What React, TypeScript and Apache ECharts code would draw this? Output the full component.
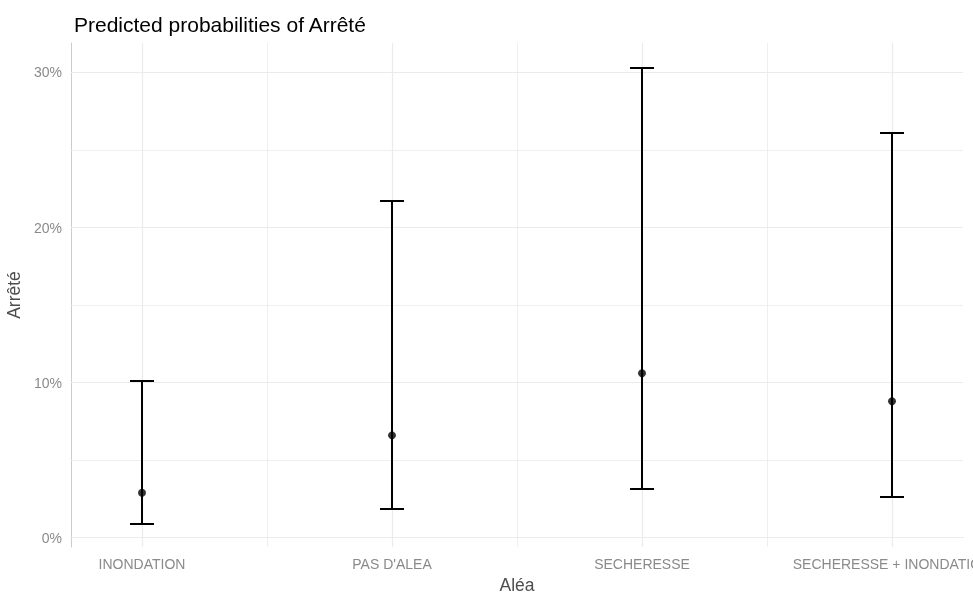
import React, { useEffect, useRef } from "react";
import * as echarts from "echarts";

const categories = ["INONDATION", "PAS D'ALEA", "SECHERESSE", "SECHERESSE + INONDATION"];
const predicted = [0.029, 0.066, 0.106, 0.088];
const lower = [0.0086, 0.0186, 0.0315, 0.026];
const upper = [0.101, 0.217, 0.303, 0.261];
const yTicks = [0, 0.1, 0.2, 0.3];
const yMinor = [0.05, 0.15, 0.25];
const xMinor = [1.5, 2.5, 3.5];

export default function App() {
  const ref = useRef<HTMLDivElement>(null);
  useEffect(() => {
    document.body.style.margin = "0";
    const chart = echarts.init(ref.current!, null, { renderer: "svg" });
    const font = "'Liberation Sans', Arial, sans-serif";
    const gridColor = "#ebebeb";
    const xPos = categories.map((_, i) => i + 1);
    chart.setOption({
      animation: false,
      textStyle: { fontFamily: font },
      title: {
        text: "Predicted probabilities of Arrêté",
        left: 69,
        top: 9,
        textStyle: { fontSize: 21, fontWeight: "normal", color: "#000", fontFamily: font },
      },
      grid: { left: 71, top: 43, right: 10, bottom: 46, outerBoundsMode: "none", containLabel: false },
      xAxis: {
        type: "value",
        min: 0.716,
        max: 4.284,
        name: "Aléa",
        nameLocation: "middle",
        nameGap: 26,
        nameTextStyle: { fontSize: 17.5, lineHeight: 18, color: "#4d4d4d", fontFamily: font },
        axisLine: { show: true, lineStyle: { color: "#cccccc", width: 1 } },
        axisTick: { show: false },
        splitLine: { show: false },
        axisLabel: {
          customValues: xPos,
          formatter: (v: number) => categories[Math.round(v) - 1] ?? "",
          color: "#8a8a8a",
          fontSize: 14,
          margin: 10,
          fontFamily: font,
        },
      },
      yAxis: {
        type: "value",
        min: -0.006,
        max: 0.319,
        name: "Arrêté",
        nameLocation: "middle",
        nameGap: 44,
        nameTextStyle: { fontSize: 17.5, color: "#4d4d4d", fontFamily: font },
        axisLine: { show: true, lineStyle: { color: "#cccccc", width: 1 } },
        axisTick: { show: false },
        splitLine: { show: false },
        axisLabel: {
          customValues: yTicks,
          formatter: (v: number) => Math.round(v * 100) + "%",
          color: "#8a8a8a",
          fontSize: 14,
          margin: 9,
          fontFamily: font,
        },
      },
      series: [
        {
          type: "line",
          data: [],
          silent: true,
          z: 1,
          markLine: {
            silent: true,
            symbol: "none",
            z: 1,
            label: { show: false },
            animation: false,
            data: [
              ...yTicks.map((v) => ({ yAxis: v, lineStyle: { color: gridColor, width: 1.2, type: "solid" } })),
              ...yMinor.map((v) => ({ yAxis: v, lineStyle: { color: gridColor, width: 0.8, type: "solid" } })),
              ...xPos.map((v) => ({ xAxis: v, lineStyle: { color: gridColor, width: 1.2, type: "solid" } })),
              ...xMinor.map((v) => ({ xAxis: v, lineStyle: { color: gridColor, width: 0.8, type: "solid" } })),
            ],
          },
        },
        {
          type: "custom",
          data: xPos.map((x, i) => [x, lower[i], upper[i]]),
          renderItem: (params: any, api: any) => {
            const x = api.value(0);
            const lo = api.coord([x, api.value(1)]);
            const hi = api.coord([x, api.value(2)]);
            const cx = Math.round(lo[0]);
            const ly = Math.round(lo[1]);
            const hy = Math.round(hi[1]);
            const hw = 12;
            const style = { fill: "#000", stroke: null };
            return {
              type: "group",
              children: [
                { type: "rect", shape: { x: cx - 1, y: hy - 1, width: 2, height: ly - hy + 2 }, style },
                { type: "rect", shape: { x: cx - hw, y: ly - 1, width: hw * 2, height: 2 }, style },
                { type: "rect", shape: { x: cx - hw, y: hy - 1, width: hw * 2, height: 2 }, style },
              ],
            };
          },
          z: 10,
        },
        {
          type: "scatter",
          data: xPos.map((x, i) => [x, predicted[i]]),
          symbol: "circle",
          symbolSize: 8,
          itemStyle: { color: "#000" },
          z: 11,
        },
      ],
    });
    return () => chart.dispose();
  }, []);
  return <div ref={ref} style={{ position: "fixed", left: 0, top: 0, width: 973, height: 593 }} />;
}
